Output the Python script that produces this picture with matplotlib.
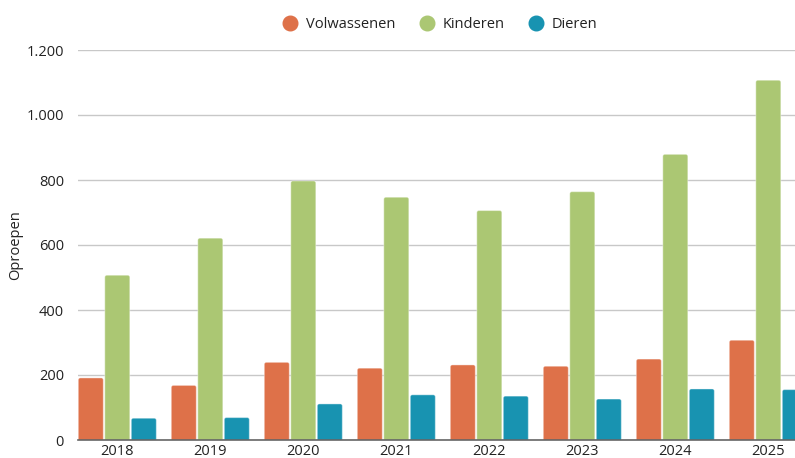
import numpy as np
import matplotlib.pyplot as plt
from matplotlib.patches import FancyBboxPatch
from matplotlib.ticker import FuncFormatter

plt.rcParams['font.family'] = ['Open Sans', 'DejaVu Sans']

# === data ===
years = ["2018", "2019", "2020", "2021", "2022", "2023", "2024", "2025"]
volwassenen = [191, 168, 239, 221, 231, 227, 249, 307]
kinderen = [507, 621, 797, 747, 706, 764, 879, 1107]
dieren = [67, 69, 111, 139, 135, 126, 157, 155]

series = [
    ("Volwassenen", volwassenen, "#DE7149"),
    ("Kinderen", kinderen, "#ABC773"),
    ("Dieren", dieren, "#1893B1"),
]

W, H = 795, 458
fig = plt.figure(figsize=(W / 100, H / 100), dpi=100)
ax = fig.add_axes([78 / W, 1 - 440 / H, 1 - 78 / W, 390 / H])

x = np.arange(len(years))
bar_w = 0.269
step = 0.285

for i, (name, vals, col) in enumerate(series):
    bars = ax.bar(x + (i - 1) * step, vals, width=bar_w, color=col, label=name)
    # swap plain rectangles for ones with rounded top corners
    for b in bars:
        b.set_visible(False)
        p = FancyBboxPatch((b.get_x(), -10), b.get_width(), b.get_height() + 10,
                           boxstyle="round,pad=0,rounding_size=0.022",
                           mutation_aspect=286, facecolor=col,
                           edgecolor=(1, 1, 1, 0.35), linewidth=0.8, zorder=2)
        ax.add_patch(p)

ax.set_xlim(-0.4226, 7.287)
ax.set_ylim(0, 1200)
ax.set_xticks(x)
ax.set_xticklabels(years)
ax.set_yticks(np.arange(0, 1201, 200))
ax.yaxis.set_major_formatter(FuncFormatter(lambda v, p: f"{int(v):,}".replace(",", ".")))

ax.grid(axis="y", color="#c8c8c8", linewidth=1)
ax.set_axisbelow(True)
for s in ["top", "right", "left"]:
    ax.spines[s].set_visible(False)
ax.spines["bottom"].set_color("#666666")
ax.spines["bottom"].set_linewidth(1.2)
ax.spines["bottom"].set_zorder(3)
ax.tick_params(axis="both", length=0, labelsize=10.5, colors="#222222")
ax.tick_params(axis="y", pad=10)
ax.tick_params(axis="x", pad=3)
ax.set_ylabel("Oproepen", fontsize=10.5, color="#222222")
ax.yaxis.set_label_coords(-0.077, 0.5)

handles = [plt.Line2D([], [], marker="o", linestyle="", markersize=10.5,
                      color=col) for _, _, col in series]
ax.legend(handles, [n for n, _, _ in series], loc="center",
          bbox_to_anchor=(0.5, 1 + 25 / 390), ncol=3, frameon=False,
          fontsize=10.5, handletextpad=0.1, columnspacing=1.15,
          labelcolor="#222222")

fig.savefig("out.png", dpi=100)
